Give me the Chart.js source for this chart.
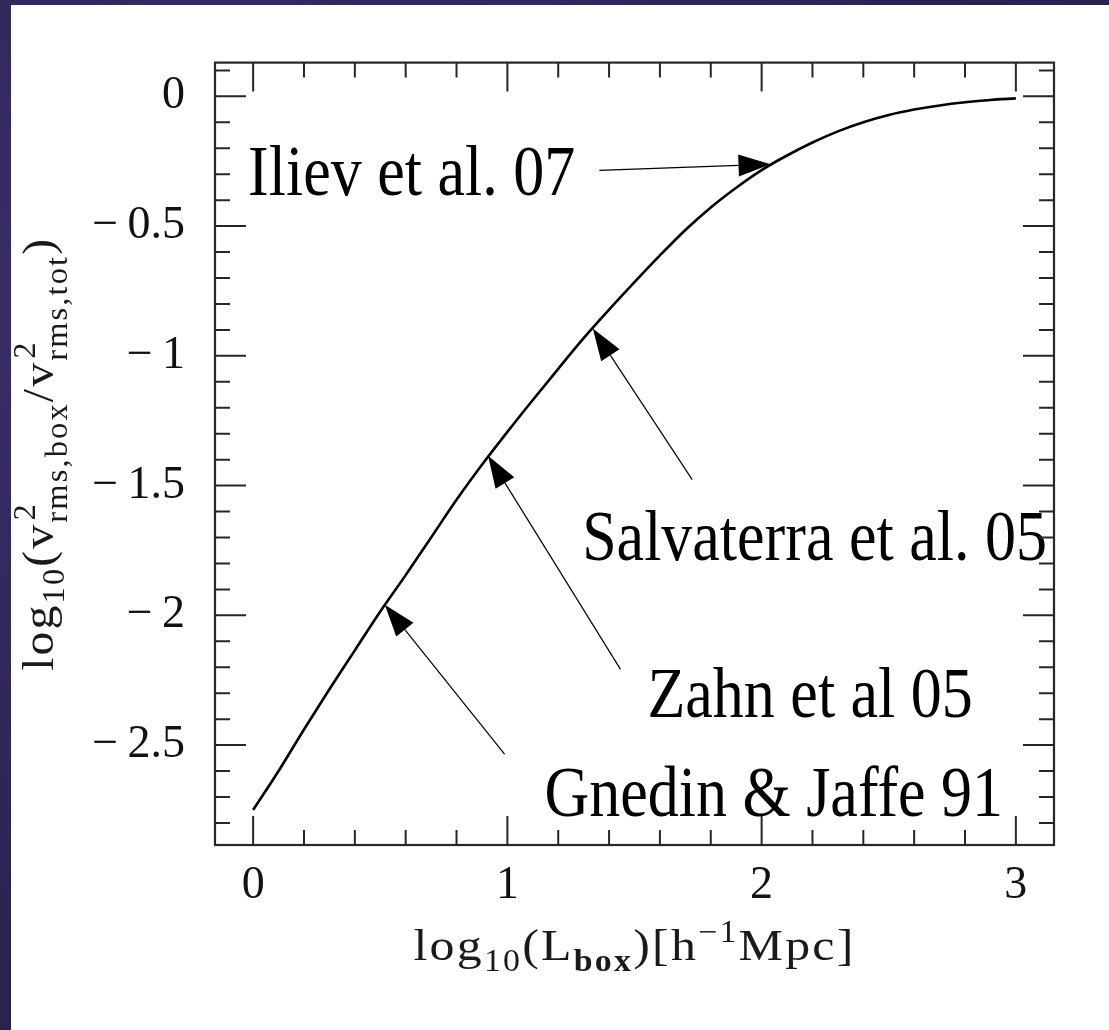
<!DOCTYPE html>
<html>
<head>
<meta charset="utf-8">
<script src="https://cdn.jsdelivr.net/npm/chart.js@4.4.1/dist/chart.umd.min.js"></script>
<style>
html,body{margin:0;padding:0;}
body{width:1109px;height:1030px;overflow:hidden;position:relative;
  background:#2f2558;
  background-image:radial-gradient(ellipse at 20% 30%, #3b3069 0%, #2d2353 60%, #281e4b 100%);}
#wrap{position:absolute;left:11px;top:5px;width:1098px;height:1025px;background:#ffffff;}
canvas{display:block;}
</style>
</head>
<body>
<div id="wrap"><canvas id="c" width="1098" height="1025"></canvas></div>
<script>
// ---------------- data ----------------
const xValues = [0.0,0.1,0.2,0.3,0.4,0.5,0.6,0.7,0.8,0.9,1.0,1.1,1.2,1.3,1.4,1.5,1.6,1.7,1.8,1.9,2.0,2.1,2.2,2.3,2.4,2.5,2.6,2.7,2.8,2.9,3.0];
const yValues = [-2.750,-2.600,-2.440,-2.285,-2.135,-1.985,-1.845,-1.700,-1.555,-1.420,-1.293,-1.170,-1.050,-0.932,-0.822,-0.716,-0.613,-0.515,-0.428,-0.352,-0.284,-0.228,-0.178,-0.135,-0.100,-0.072,-0.051,-0.035,-0.023,-0.014,-0.008];

const xMajorTicks = [0, 1, 2, 3];
const xTickLabels = ['0', '1', '2', '3'];
const xMinorTicks = [0,0.2,0.4,0.6,0.8,1.0,1.2,1.4,1.6,1.8,2.0,2.2,2.4,2.6,2.8,3.0];

const yMajorTicks = [0, -0.5, -1, -1.5, -2, -2.5];
const yTickLabels = ['0', '\u2212\u20090.5', '\u2212\u20091', '\u2212\u20091.5', '\u2212\u20092', '\u2212\u20092.5'];
const yMinorTicks = [0.1,0,-0.1,-0.2,-0.3,-0.4,-0.5,-0.6,-0.7,-0.8,-0.9,-1.0,-1.1,-1.2,-1.3,-1.4,-1.5,-1.6,-1.7,-1.8,-1.9,-2.0,-2.1,-2.2,-2.3,-2.4,-2.5,-2.6,-2.7,-2.8];

const annotationLabels = ['Iliev et al. 07', 'Salvaterra et al. 05', 'Zahn et al 05', 'Gnedin & Jaffe 91'];

// ---------------- layout (data coordinates of annotation pieces) ----------------
const labelPos  = [[-0.02,-0.381],[1.294,-1.786],[1.551,-2.390],[1.146,-2.775]];
const arrowTail = [[1.362,-0.285],[1.727,-1.477],[1.445,-2.208],[0.989,-2.535]];
const arrowTip  = [[2.035,-0.262],[1.336,-0.895],[0.924,-1.385],[0.518,-1.959]];

const xTitleParts = [{t:'log'},{t:'10',s:0.68,dy:0.24},{t:'(L'},{t:'box',s:0.68,dy:0.24,bold:true},{t:')[h'},{t:'\u22121',s:0.68,dy:-0.40},{t:'Mpc]'}];
const yTitleParts = [{t:'log'},{t:'10',s:0.68,dy:0.24},{t:'(v'},{stack:true,sup:'2',sub:'rms,box'},{t:'/v'},{stack:true,sup:'2',sub:'rms,tot'},{t:')'}];

const SERIF = '"Liberation Serif", "Times New Roman", serif';
const LS = 2; // letter spacing for axis titles (px)
function fnt(size, bold){ return (bold ? 'bold ' : '') + size + 'px ' + SERIF; }
function near(v, arr){ return arr.findIndex(a => Math.abs(a - v) < 1e-6); }

function tw(ctx, s){ ctx.letterSpacing = '0px'; return ctx.measureText(s).width + LS * [...s].length; }
function richWidth(ctx, parts, size){
  let w = 0;
  parts.forEach(p => {
    if (p.stack){
      ctx.font = fnt(size*0.68);
      w += Math.max(tw(ctx, p.sup), tw(ctx, p.sub));
    } else {
      ctx.font = fnt(size*(p.s||1), p.bold);
      w += tw(ctx, p.t);
    }
  });
  return w;
}
function drawRich(ctx, parts, size, x0){
  let cx = x0;
  parts.forEach(p => {
    if (p.stack){
      ctx.font = fnt(size*0.68);
      const w = Math.max(tw(ctx, p.sup), tw(ctx, p.sub));
      ctx.letterSpacing = LS + 'px';
      ctx.fillText(p.sup, cx + 2, -0.40*size);
      ctx.fillText(p.sub, cx, 0.30*size);
      cx += w;
    } else {
      ctx.font = fnt(size*(p.s||1), p.bold);
      const w = tw(ctx, p.t);
      ctx.letterSpacing = LS + 'px';
      ctx.fillText(p.t, cx, (p.dy||0)*size);
      cx += w;
    }
  });
  ctx.letterSpacing = '0px';
}

const decor = {
  id: 'decor',
  afterDatasetsDraw(chart){
    const {ctx, chartArea:a, scales:{x, y}} = chart;
    ctx.save();
    ctx.fillStyle = '#000';
    ctx.textAlign = 'left';
    ctx.textBaseline = 'alphabetic';
    // annotation texts
    annotationLabels.forEach((lab, i) => {
      const px = x.getPixelForValue(labelPos[i][0]);
      const py = y.getPixelForValue(labelPos[i][1]);
      ctx.save();
      ctx.translate(px, py);
      ctx.scale(1, 1.15);
      ctx.font = fnt(62);
      ctx.fillText(lab, 0, 0);
      ctx.restore();
    });
    // arrows
    ctx.strokeStyle = '#000';
    ctx.lineWidth = 1.2;
    arrowTail.forEach((t, i) => {
      const x0 = x.getPixelForValue(t[0]), y0 = y.getPixelForValue(t[1]);
      const x1 = x.getPixelForValue(arrowTip[i][0]), y1 = y.getPixelForValue(arrowTip[i][1]);
      const dx = x1 - x0, dy = y1 - y0, d = Math.hypot(dx, dy);
      const ux = dx/d, uy = dy/d, L = 32, W = 11;
      const bx = x1 - ux*L, by = y1 - uy*L;
      ctx.beginPath(); ctx.moveTo(x0, y0); ctx.lineTo(bx, by); ctx.stroke();
      ctx.beginPath();
      ctx.moveTo(x1, y1);
      ctx.lineTo(bx - uy*W, by + ux*W);
      ctx.lineTo(bx + uy*W, by - ux*W);
      ctx.closePath(); ctx.fill();
    });
    // frame
    ctx.strokeStyle = '#262626';
    ctx.lineWidth = 2.2;
    ctx.strokeRect(a.left, a.top, a.right - a.left, a.bottom - a.top);
    // inward ticks on all four sides
    ctx.lineWidth = 2;
    ctx.beginPath();
    xMinorTicks.forEach(v => {
      const px = x.getPixelForValue(v);
      const L = near(v, xMajorTicks) >= 0 ? 29 : 15;
      ctx.moveTo(px, a.bottom); ctx.lineTo(px, a.bottom - L);
      ctx.moveTo(px, a.top); ctx.lineTo(px, a.top + L);
    });
    yMinorTicks.forEach(v => {
      const py = y.getPixelForValue(v);
      const L = near(v, yMajorTicks) >= 0 ? 31 : 15;
      ctx.moveTo(a.left, py); ctx.lineTo(a.left + L, py);
      ctx.moveTo(a.right, py); ctx.lineTo(a.right - L, py);
    });
    ctx.stroke();
    // axis titles
    ctx.fillStyle = '#1a1a1a';
    const base = 45;
    // x title
    let w = richWidth(ctx, xTitleParts, base);
    let k = 442 / w;
    ctx.save();
    ctx.translate((a.left + a.right)/2, a.bottom + 115);
    ctx.scale(k, 1);
    drawRich(ctx, xTitleParts, base, -w/2);
    ctx.restore();
    // y title
    w = richWidth(ctx, yTitleParts, base);
    k = 434 / w;
    ctx.save();
    ctx.translate(42, (a.top + a.bottom)/2);
    ctx.rotate(-Math.PI/2);
    ctx.scale(k, 1);
    drawRich(ctx, yTitleParts, base, -w/2);
    ctx.restore();
    ctx.restore();
  }
};

new Chart(document.getElementById('c'), {
  type: 'line',
  data: {
    datasets: [{
      data: xValues.map((v, i) => ({x: v, y: yValues[i]})),
      borderColor: '#000',
      borderWidth: 2.6,
      pointRadius: 0,
      fill: false,
      cubicInterpolationMode: 'monotone'
    }]
  },
  options: {
    responsive: false,
    animation: false,
    layout: {padding: {top: 56, right: 55, left: 0, bottom: 0}},
    plugins: {legend: {display: false}, tooltip: {enabled: false}},
    scales: {
      x: {
        type: 'linear', min: -0.15, max: 3.15,
        afterBuildTicks: s => { s.ticks = xMinorTicks.map(v => ({value: v})); },
        afterFit: s => { s.height = 185; },
        grid: {display: false, drawTicks: false, tickLength: 0},
        border: {display: false},
        ticks: {
          autoSkip: false, maxRotation: 0, padding: 13, color: '#111',
          font: {family: SERIF, size: 46},
          callback: v => { const i = near(v, xMajorTicks); return i >= 0 ? xTickLabels[i] : ''; }
        }
      },
      y: {
        type: 'linear', min: -2.885, max: 0.13,
        afterBuildTicks: s => { s.ticks = yMinorTicks.map(v => ({value: v})); },
        afterFit: s => { s.width = 204; },
        grid: {display: false, drawTicks: false, tickLength: 0},
        border: {display: false},
        ticks: {
          autoSkip: false, padding: 30, color: '#111',
          font: {family: SERIF, size: 46},
          callback: v => { const i = near(v, yMajorTicks); return i >= 0 ? yTickLabels[i] : ''; }
        }
      }
    }
  },
  plugins: [decor]
});
</script>
</body>
</html>
